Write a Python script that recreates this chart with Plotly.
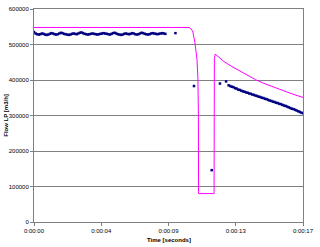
import plotly.graph_objects as go

# Measured flow (blue dots): steady part, isolated points, decay part
flat_t = [0.0, 0.1, 0.2, 0.3, 0.4, 0.5, 0.6, 0.7, 0.8, 0.9,
          1.0, 1.1, 1.2, 1.3, 1.4, 1.5, 1.6, 1.7, 1.8, 1.9,
          2.0, 2.1, 2.2, 2.3, 2.4, 2.5, 2.6, 2.7, 2.8, 2.9,
          3.0, 3.1, 3.2, 3.3, 3.4, 3.5, 3.6, 3.7, 3.8, 3.9,
          4.0, 4.1, 4.2, 4.3, 4.4, 4.5, 4.6, 4.7, 4.8, 4.9,
          5.0, 5.1, 5.2, 5.3, 5.4, 5.5, 5.6, 5.7, 5.8, 5.9,
          6.0, 6.1, 6.2, 6.3, 6.4, 6.5, 6.6, 6.7, 6.8, 6.9,
          7.0, 7.1, 7.2, 7.3, 7.4, 7.5, 7.6, 7.7, 7.8, 7.9,
          8.0, 8.1, 8.2, 8.3]
flat_v = [535000, 531000, 529000, 528000, 529000, 531000, 530000, 528000, 527000, 528000,
          530000, 532000, 531000, 529000, 528000, 529000, 531000, 533000, 532000, 530000,
          529000, 528000, 527000, 528000, 530000, 531000, 530000, 529000, 531000, 533000,
          534000, 532000, 530000, 529000, 528000, 529000, 530000, 531000, 530000, 529000,
          528000, 529000, 530000, 531000, 532000, 531000, 530000, 529000, 528000, 530000,
          532000, 533000, 531000, 529000, 528000, 527000, 528000, 530000, 531000, 530000,
          529000, 530000, 532000, 531000, 529000, 528000, 529000, 531000, 533000, 532000,
          530000, 529000, 528000, 529000, 531000, 532000, 531000, 530000, 529000, 530000,
          531000, 532000, 531000, 530000]

iso_t = [8.94, 10.11, 11.23, 11.75, 12.14]
iso_v = [532000, 383000, 146000, 390000, 396000]

decay_t = [12.3, 12.4, 12.5, 12.6, 12.7, 12.8, 12.9, 13.0, 13.1, 13.2,
           13.3, 13.4, 13.5, 13.6, 13.7, 13.8, 13.9, 14.0, 14.1, 14.2,
           14.3, 14.4, 14.5, 14.6, 14.7, 14.8, 14.9, 15.0, 15.1, 15.2,
           15.3, 15.4, 15.5, 15.6, 15.7, 15.8, 15.9, 16.0, 16.1, 16.2,
           16.3, 16.4, 16.5, 16.6, 16.7, 16.8, 16.9, 17.0]
decay_v = [385000, 383000, 381000, 380000, 377000, 376000, 373000, 372000, 370000, 368000,
           367000, 365000, 364000, 362000, 361000, 359000, 358000, 356000, 355000, 353000,
           352000, 350000, 349000, 347000, 346000, 344000, 342000, 341000, 339000, 338000,
           336000, 335000, 333000, 332000, 330000, 328000, 327000, 325000, 323000, 321000,
           319000, 318000, 316000, 314000, 312000, 310000, 308000, 306000]

# Simulated flow (magenta line)
sim_t = [0.0, 9.82, 10.03, 10.17, 10.30, 10.36, 10.39, 10.40, 11.38, 11.40, 11.45,
         11.7, 12.0, 12.5, 13.0, 13.5, 14.0, 14.5, 15.0, 15.5, 16.0, 16.5, 17.0]
sim_v = [548000, 548000, 538000, 505000, 459000, 403000, 300000, 80000, 80000, 460000, 473000,
         463000, 452000, 438000, 425000, 412000, 401000, 391000, 382000, 374000, 366000,
         358000, 351000]

x_tickvals = [0, 4.25, 8.5, 12.75, 17]
x_ticktext = ["0:00:00", "0:00:04", "0:00:09", "0:00:13", "0:00:17"]
y_tickvals = [0, 100000, 200000, 300000, 400000, 500000, 600000]

meas_t = flat_t + iso_t + decay_t
meas_v = flat_v + iso_v + decay_v

fig = go.Figure()
fig.add_trace(go.Scatter(x=sim_t, y=sim_v, mode="lines",
                         line=dict(color="#FF00FF", width=1), showlegend=False))
fig.add_trace(go.Scatter(x=meas_t, y=meas_v, mode="markers",
                         marker=dict(color="#000080", size=2.5, symbol="square"),
                         showlegend=False))

font = dict(family="Liberation Sans, Arial, sans-serif", size=6, color="#000000")
fig.update_layout(
    width=320, height=247,
    margin=dict(l=34, r=13, t=6, b=25),
    paper_bgcolor="white", plot_bgcolor="white",
    font=font,
    xaxis=dict(range=[0, 17], tickvals=x_tickvals, ticktext=x_ticktext,
               showgrid=False, zeroline=False, showline=True, linecolor="#808080",
               mirror=True, ticks="outside", ticklen=3, tickcolor="#808080",
               tickfont=font),
    yaxis=dict(range=[0, 600000], tickvals=y_tickvals, showgrid=True,
               gridcolor="#808080", gridwidth=1, zeroline=False, showline=True,
               linecolor="#808080", mirror=True, ticks="outside", ticklen=3,
               tickcolor="#808080", tickfont=font, tickformat="d"),
    annotations=[
        dict(text="<b>Time [seconds]</b>", xref="paper", yref="paper",
             x=(171 - 34) / 273, y=-0.085, xanchor="center", yanchor="middle",
             showarrow=False, font=font),
        dict(text="<b>Flow LP [m3/h]</b>", xref="paper", yref="paper",
             x=-0.107, y=0.5, xanchor="center", yanchor="middle", textangle=-90,
             showarrow=False, font=font),
    ],
)
fig.write_html("out.html")
